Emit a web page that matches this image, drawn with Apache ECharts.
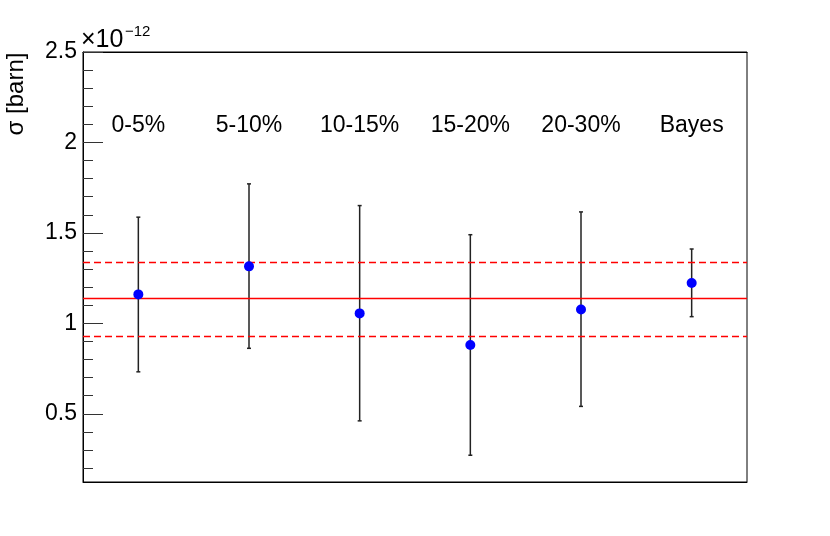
<!DOCTYPE html>
<html>
<head>
<meta charset="UTF-8">
<title>sigma</title>
<script src="https://cdn.jsdelivr.net/npm/echarts@6/dist/echarts.min.js"></script>
</head>
<body style="margin:0;background:#fff;">
<div id="main" style="width:830px;height:536px;"></div>
<script>
var categories = ['0-5%', '5-10%', '10-15%', '15-20%', '20-30%', 'Bayes'];
var sigma = [1.160, 1.315, 1.055, 0.880, 1.077, 1.223];
var errLow = [0.732, 0.862, 0.461, 0.271, 0.541, 1.037];
var errHigh = [1.587, 1.771, 1.651, 1.490, 1.616, 1.411];
var meanLine = 1.135;
var bandLines = [1.338, 0.926];
var majorTicks = [0.5, 1, 1.5, 2, 2.5];
var tickLabels = ['0.5', '1', '1.5', '2', '2.5'];
var minorTicks = [0.2, 0.3, 0.4, 0.6, 0.7, 0.8, 0.9, 1.1, 1.2, 1.3, 1.4,
                  1.6, 1.7, 1.8, 1.9, 2.1, 2.2, 2.3, 2.4];
var yMin = 0.123, yMax = 2.5;

var font = 'Liberation Sans, Arial, sans-serif';
var chart = echarts.init(document.getElementById('main'));

var errData = categories.map(function (c, i) { return [i, errLow[i], errHigh[i]]; });

var option = {
    animation: false,
    grid: {left: 83, right: 83, top: 52, bottom: 54, show: true, borderColor: '#000', borderWidth: 1},
    xAxis: [
        {
            type: 'category', data: categories, position: 'bottom',
            axisLine: {lineStyle: {color: '#000', width: 1}},
            axisTick: {show: false}, axisLabel: {show: false}, splitLine: {show: false}
        },
        {
            type: 'category', data: categories, position: 'top',
            axisLine: {lineStyle: {color: '#000', width: 1}},
            axisTick: {show: false},
            axisLabel: {inside: true, margin: 62, fontSize: 23, color: '#000', fontFamily: font}
        }
    ],
    yAxis: [
        {
            type: 'value', min: yMin, max: yMax, position: 'left',
            axisLine: {show: true, lineStyle: {color: '#000', width: 1}},
            axisTick: {show: true, inside: true, length: 20, customValues: majorTicks,
                       lineStyle: {color: '#333', width: 1}},
            axisLabel: {customValues: majorTicks, fontSize: 23, color: '#000', fontFamily: font, margin: 6,
                        formatter: function (v) { return tickLabels[majorTicks.indexOf(+(+v).toFixed(2))] || ''; }},
            splitLine: {show: false}
        },
        {
            type: 'value', min: yMin, max: yMax, position: 'left',
            axisLine: {show: false},
            axisTick: {show: true, inside: true, length: 10, customValues: minorTicks,
                       lineStyle: {color: '#333', width: 1}},
            axisLabel: {show: false},
            splitLine: {show: false}
        }
    ],
    graphic: [
        {
            type: 'text', x: 16, y: 94, rotation: Math.PI / 2,
            style: {text: 'σ [barn]', fontSize: 24, fontFamily: font, fill: '#000',
                    align: 'center', verticalAlign: 'middle'}
        },
        {
            type: 'text', x: 81, y: 40,
            style: {text: '×10', fontSize: 25, fontFamily: font, fill: '#000',
                    align: 'left', verticalAlign: 'middle'}
        },
        {
            type: 'text', x: 125, y: 32,
            style: {text: '−12', fontSize: 15, fontFamily: font, fill: '#000',
                    align: 'left', verticalAlign: 'middle'}
        }
    ],
    series: [
        {
            type: 'line', data: [], silent: true, z: 1,
            markLine: {
                silent: true, symbol: 'none', label: {show: false}, animation: false,
                data: [
                    {yAxis: meanLine, lineStyle: {color: '#ff0000', width: 1.3, type: 'solid'}},
                    {yAxis: bandLines[0], lineStyle: {color: '#ff0000', width: 1.3, type: [7, 4]}},
                    {yAxis: bandLines[1], lineStyle: {color: '#ff0000', width: 1.3, type: [7, 4]}}
                ]
            }
        },
        {
            type: 'custom', z: 3, silent: true,
            data: errData,
            renderItem: function (params, api) {
                var x = api.value(0);
                var lo = api.coord([x, api.value(1)]);
                var hi = api.coord([x, api.value(2)]);
                var cap = 2;
                var st = {stroke: '#222', lineWidth: 1.5};
                return {
                    type: 'group',
                    children: [
                        {type: 'line', shape: {x1: lo[0], y1: lo[1], x2: hi[0], y2: hi[1]}, style: st},
                        {type: 'line', shape: {x1: lo[0] - cap, y1: lo[1], x2: lo[0] + cap, y2: lo[1]}, style: st},
                        {type: 'line', shape: {x1: hi[0] - cap, y1: hi[1], x2: hi[0] + cap, y2: hi[1]}, style: st}
                    ]
                };
            }
        },
        {
            type: 'scatter', z: 5, data: sigma, symbol: 'circle', symbolSize: 10,
            itemStyle: {color: '#0000ff', opacity: 1}
        }
    ]
};
chart.setOption(option);
</script>
</body>
</html>
